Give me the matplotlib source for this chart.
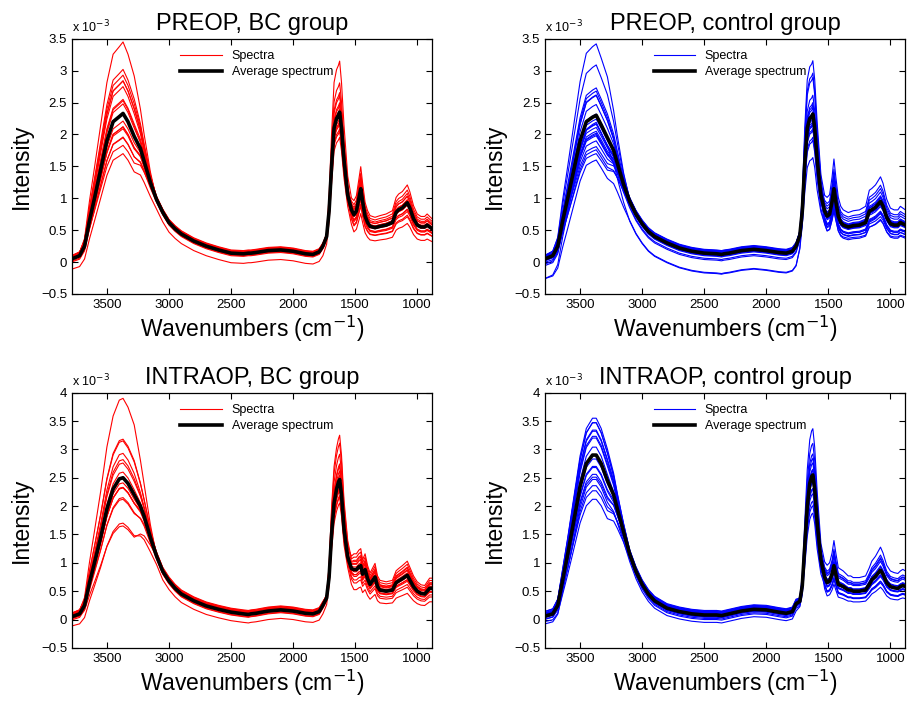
import numpy as np
import matplotlib
matplotlib.use("Agg")
import matplotlib.pyplot as plt
from matplotlib.lines import Line2D
from matplotlib.ticker import FuncFormatter

plt.rcParams["font.family"] = ["Liberation Sans", "DejaVu Sans"]

# wavenumber grid (cm^-1) shared by all four panels
WN = np.array([3782, 3720, 3680, 3640, 3600, 3550, 3500, 3450, 3400, 3370,
               3330, 3280, 3230, 3200, 3150, 3100, 3050, 3000, 2950, 2900,
               2800, 2700, 2600, 2500, 2400, 2360, 2340, 2300, 2200, 2100,
               2000, 1900, 1840, 1790, 1760, 1730, 1710, 1690, 1670, 1650,
               1635, 1625, 1610, 1590, 1560, 1530, 1510, 1490, 1470, 1455,
               1440, 1420, 1400, 1380, 1340, 1320, 1300, 1250, 1200, 1170,
               1150, 1120, 1080, 1060, 1030, 1000, 970, 940, 920, 900, 879])

# average spectra (x 1e-3)
MEAN_PRE_BC = [0.05, 0.10, 0.25, 0.65, 1.00, 1.45, 1.90, 2.20, 2.28, 2.33,
               2.20, 1.97, 1.78, 1.58, 1.25, 0.98, 0.78, 0.62, 0.52, 0.44,
               0.33, 0.25, 0.19, 0.14, 0.13, 0.14, 0.14, 0.15, 0.18, 0.19,
               0.17, 0.13, 0.12, 0.16, 0.25, 0.40, 0.80, 1.50, 2.10, 2.25,
               2.30, 2.35, 2.10, 1.60, 1.05, 0.82, 0.74, 0.80, 1.00, 1.15,
               0.95, 0.72, 0.62, 0.56, 0.54, 0.55, 0.56, 0.58, 0.62, 0.78,
               0.82, 0.85, 0.93, 0.85, 0.68, 0.58, 0.55, 0.55, 0.58, 0.55, 0.52]
MEAN_PRE_CT = [0.05, 0.10, 0.25, 0.65, 1.00, 1.45, 1.90, 2.20, 2.27, 2.30,
               2.15, 1.95, 1.75, 1.55, 1.22, 0.95, 0.75, 0.60, 0.48, 0.40,
               0.30, 0.22, 0.17, 0.14, 0.13, 0.12, 0.13, 0.14, 0.18, 0.20,
               0.18, 0.15, 0.14, 0.17, 0.25, 0.42, 0.80, 1.55, 2.10, 2.25,
               2.28, 2.32, 2.10, 1.60, 1.05, 0.80, 0.72, 0.75, 0.95, 1.15,
               0.95, 0.72, 0.62, 0.58, 0.55, 0.56, 0.57, 0.58, 0.62, 0.80,
               0.82, 0.86, 0.95, 0.88, 0.70, 0.60, 0.58, 0.58, 0.62, 0.60, 0.58]
MEAN_INT_BC = [0.05, 0.10, 0.25, 0.65, 1.00, 1.45, 1.95, 2.30, 2.48, 2.50,
               2.40, 2.20, 2.00, 1.82, 1.45, 1.12, 0.85, 0.68, 0.55, 0.45,
               0.33, 0.24, 0.18, 0.13, 0.10, 0.09, 0.10, 0.11, 0.15, 0.17,
               0.15, 0.11, 0.10, 0.14, 0.25, 0.38, 0.75, 1.50, 2.05, 2.30,
               2.42, 2.47, 2.20, 1.60, 1.10, 0.90, 0.88, 0.88, 0.93, 0.95,
               0.80, 0.88, 0.72, 0.62, 0.75, 0.58, 0.52, 0.50, 0.52, 0.65,
               0.68, 0.72, 0.78, 0.70, 0.58, 0.50, 0.46, 0.45, 0.50, 0.55, 0.55]
MEAN_INT_CT = [0.06, 0.10, 0.25, 0.70, 1.15, 1.75, 2.35, 2.75, 2.90, 2.90,
               2.75, 2.45, 2.20, 1.95, 1.55, 1.15, 0.85, 0.62, 0.45, 0.33,
               0.20, 0.14, 0.10, 0.08, 0.08, 0.07, 0.08, 0.10, 0.15, 0.18,
               0.17, 0.13, 0.11, 0.14, 0.28, 0.32, 0.60, 1.30, 2.00, 2.40,
               2.52, 2.55, 2.30, 1.70, 1.05, 0.75, 0.65, 0.68, 0.80, 0.95,
               0.80, 0.62, 0.60, 0.58, 0.52, 0.52, 0.50, 0.50, 0.52, 0.62,
               0.70, 0.76, 0.87, 0.80, 0.65, 0.58, 0.56, 0.55, 0.58, 0.60, 0.58]

# individual spectra, read per spectrum: OH band peak, amide I peak,
# baseline shift and fingerprint-region ratio
OH_PRE_BC = [3.45, 3.0, 2.9, 2.85, 2.8, 2.75, 2.55, 2.5, 2.45, 2.2, 2.15, 2.1,
             2.05, 2.0, 1.95, 1.85, 1.8]
AM_PRE_BC = [3.15, 2.65, 2.6, 2.5, 2.45, 2.4, 2.35, 2.3, 2.3, 2.25, 2.2, 2.2,
             2.15, 2.1, 2.05, 2.0, 2.8]
BASE_PRE_BC = [0.0, 0.02, 0.03, -0.01, 0.04, 0.0, -0.02, 0.05, 0.03, 0.01,
               -0.03, 0.02, 0.04, -0.04, 0.0, -0.15, 0.03]
FP_PRE_BC = [1.3, 1.15, 1.1, 1.05, 1.2, 1.0, 0.9, 0.95, 1.1, 0.85, 0.8, 1.0,
             0.75, 0.9, 1.05, 0.7, 0.95]

OH_PRE_CT = [3.4, 3.05, 2.7, 2.68, 2.62, 2.58, 2.5, 2.45, 2.35, 2.2, 2.15,
             2.12, 2.08, 2.05, 2.0, 1.95, 1.9, 1.88, 1.8, 1.75, 1.7, 2.25]
AM_PRE_CT = [3.15, 2.95, 2.9, 2.6, 2.5, 2.45, 2.4, 2.35, 2.3, 2.3, 2.25, 2.2,
             2.2, 2.15, 2.1, 2.05, 2.0, 1.95, 1.65, 2.4, 2.3, 2.2]
BASE_PRE_CT = [0.02, 0.04, -0.02, 0.05, 0.0, 0.03, -0.31, 0.02, -0.03, 0.04,
               0.01, -0.1, 0.03, 0.0, -0.02, 0.05, -0.30, 0.02, -0.04, 0.06,
               0.0, -0.08]
FP_PRE_CT = [1.4, 1.2, 1.1, 1.0, 0.95, 1.05, 0.9, 1.15, 0.85, 1.0, 0.8, 1.1,
             0.95, 0.75, 1.0, 0.9, 0.8, 1.05, 0.7, 1.25, 0.95, 0.85]

OH_INT_BC = [3.9, 3.15, 3.1, 2.95, 2.8, 2.7, 2.6, 2.55, 2.45, 2.4, 2.35, 2.3,
             2.25, 2.2, 2.1, 1.85, 1.65]
AM_INT_BC = [3.25, 3.1, 2.9, 2.75, 2.7, 2.6, 2.55, 2.5, 2.45, 2.4, 2.35, 2.3,
             2.25, 2.2, 2.15, 2.1, 2.45]
BASE_INT_BC = [0.0, 0.03, 0.05, -0.02, 0.02, 0.06, 0.0, -0.04, 0.04, 0.01,
               -0.02, 0.03, 0.07, -0.05, 0.02, -0.15, 0.0]
FP_INT_BC = [1.25, 1.15, 1.3, 1.0, 0.95, 1.1, 0.9, 1.2, 0.85, 1.05, 0.8, 1.0,
             0.95, 0.75, 1.1, 0.65, 0.9]

OH_INT_CT = [3.5, 3.45, 3.4, 3.35, 3.3, 3.2, 3.15, 3.1, 2.8, 2.7, 2.65, 2.6,
             2.55, 2.45, 2.4, 2.25, 2.2]
AM_INT_CT = [3.35, 3.1, 2.9, 2.85, 2.75, 2.65, 2.6, 2.55, 2.5, 2.45, 2.4, 2.35,
             2.3, 2.2, 2.1, 2.0, 1.9]
BASE_INT_CT = [0.05, 0.02, 0.07, -0.03, 0.04, 0.0, 0.08, -0.06, 0.03, -0.02,
               0.05, -0.13, 0.01, 0.06, -0.04, 0.02, -0.08]
FP_INT_CT = [1.45, 1.3, 1.2, 1.1, 1.0, 0.9, 1.15, 0.8, 1.05, 0.75, 0.95, 0.7,
             1.25, 0.85, 1.0, 0.9, 0.8]

PANELS = [
    ("PREOP, BC group", "red", 3.5, MEAN_PRE_BC, OH_PRE_BC, AM_PRE_BC, BASE_PRE_BC, FP_PRE_BC),
    ("PREOP, control group", "blue", 3.5, MEAN_PRE_CT, OH_PRE_CT, AM_PRE_CT, BASE_PRE_CT, FP_PRE_CT),
    ("INTRAOP, BC group", "red", 4.0, MEAN_INT_BC, OH_INT_BC, AM_INT_BC, BASE_INT_BC, FP_INT_BC),
    ("INTRAOP, control group", "blue", 4.0, MEAN_INT_CT, OH_INT_CT, AM_INT_CT, BASE_INT_CT, FP_INT_CT),
]

# axes rectangles in figure fractions (left, bottom, width, height)
RECTS = [(0.079, 0.583, 0.396, 0.362), (0.599, 0.583, 0.396, 0.362),
         (0.079, 0.081, 0.396, 0.362), (0.599, 0.081, 0.396, 0.362)]


def spectra_from(mean, oh, am, base, fp):
    mean = np.asarray(mean, float)
    oh_ref = mean[WN > 3000].max()
    am_ref = mean[(WN > 1550) & (WN < 1720)].max()
    oh_mask = np.clip((WN - 3100) / 180.0, 0, 1)
    am_mask = np.clip((1745 - WN) / 40.0, 0, 1) * np.clip((WN - 1535) / 30.0, 0, 1)
    fp_mask = np.clip((1560 - WN) / 40.0, 0, 1)
    base_mask = 0.3 + 0.7 * np.clip((WN - 1700) / 60.0, 0, 1)
    out = []
    for o, a, b, f in zip(oh, am, base, fp):
        out.append(mean + (o / oh_ref - 1) * mean * oh_mask
                   + (a / am_ref - 1) * mean * am_mask
                   + (f - 1) * mean * fp_mask + b * base_mask)
    return out


fig = plt.figure(figsize=(9.1, 7.05), dpi=100)
for rect, (title, col, ytop, mean, oh, am, base, fp) in zip(RECTS, PANELS):
    ax = fig.add_axes(rect)
    for s in spectra_from(mean, oh, am, base, fp):
        ax.plot(WN, s, color=col, lw=0.8)
    ax.plot(WN, mean, color="black", lw=2.6)

    ax.set_xlim(3782, 879)
    ax.set_ylim(-0.5, ytop)
    ax.set_xticks([3500, 3000, 2500, 2000, 1500, 1000])
    ax.set_yticks(np.arange(-0.5, ytop + 0.01, 0.5))
    ax.yaxis.set_major_formatter(FuncFormatter(lambda v, p: f"{v:g}".replace("-", "\u2212")))
    ax.tick_params(direction="in", top=True, right=True, length=4, width=0.8, labelsize=9.5)
    for sp in ax.spines.values():
        sp.set_linewidth(0.9)

    ax.set_title(title, fontsize=17, pad=6)
    ax.set_xlabel("Wavenumbers (cm$^{\u22121}$)", fontsize=16.5, labelpad=2)
    ax.set_ylabel("Intensity", fontsize=16.5, labelpad=6)
    ax.text(0.0, 1.015, "x 10$^{\u22123}$", transform=ax.transAxes, fontsize=9,
            ha="left", va="bottom")

    handles = [Line2D([], [], color=col, lw=0.8), Line2D([], [], color="black", lw=2.6)]
    ax.legend(handles, ["Spectra", "Average spectrum"], loc="upper left",
              bbox_to_anchor=(0.27, 1.0), frameon=False, fontsize=9,
              handlelength=3.3, labelspacing=0.35, borderaxespad=0.5)

fig.savefig("out.png", dpi=100, facecolor="white")
